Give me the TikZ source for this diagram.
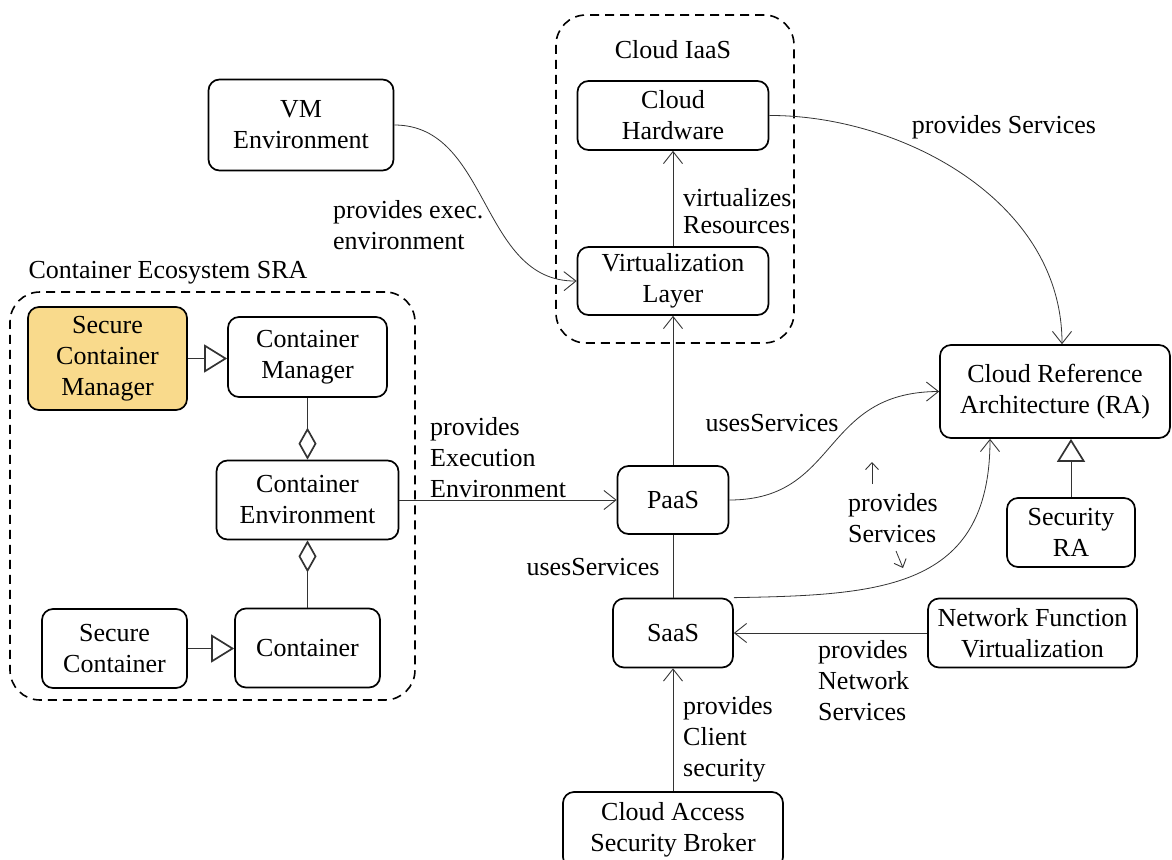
\documentclass[tikz,border=0pt]{standalone}
\usepackage{fontspec}
\setmainfont{Liberation Serif}
\usetikzlibrary{arrows.meta}
\definecolor{securefill}{RGB}{249,218,140}
\tikzset{
  box/.style={draw, rounded corners=11pt, line width=1.7pt, align=center, inner sep=0pt},
  grp/.style={draw, dash pattern=on 9pt off 6pt, rounded corners=30pt, line width=1.6pt, inner sep=0pt},
  lbl/.style={inner sep=0pt, align=left},
  openarrow/.style={-{Straight Barb[length=12pt,width=19pt,line width=0.9pt]}, line width=0.8pt, draw=black!80},
  genarrow/.style={-{Triangle[open,length=23pt,width=28pt,line width=1.7pt,fill=white]}, line width=0.8pt, draw=black!80},
  aggarrow/.style={-{Diamond[open,length=32pt,width=18pt,line width=1.7pt,fill=white]}, line width=0.8pt, draw=black!80}
}
\begin{document}
\begin{tikzpicture}[x=1pt, y=-1pt, font=\fontsize{26}{31}\selectfont]
  \useasboundingbox (0,0) rectangle (1172,859);

  % groups
  \node[grp, minimum width=238pt, minimum height=328pt] (iaas) at (675,179) {};
  \node (iaaslbl) at (673,50) {Cloud IaaS};
  \node[grp, minimum width=405pt, minimum height=408pt] (eco) at (212.5,496) {};
  \node (ecolbl) at (168,273) {Container Ecosystem SRA};

  % cloud side
  \node[box, minimum width=185pt, minimum height=91pt] (vm) at (301,125) {VM\\Environment};
  \node[box, minimum width=191pt, minimum height=69pt] (hw) at (673,115.5) {Cloud\\Hardware};
  \node[box, minimum width=191pt, minimum height=68pt] (virt) at (673,281) {Virtualization\\Layer};
  \node[box, minimum width=111pt, minimum height=68pt] (paas) at (673,500) {PaaS};
  \node[box, minimum width=120pt, minimum height=69pt] (saas) at (673,633) {SaaS};
  \node[box, minimum width=220pt, minimum height=76pt] (casb) at (673,830) {Cloud Access\\Security Broker};
  \node[box, minimum width=230pt, minimum height=93pt] (ra) at (1055,391.5) {Cloud Reference\\Architecture (RA)};
  \node[box, minimum width=128pt, minimum height=69pt] (secra) at (1071,532.5) {Security\\RA};
  \node[box, minimum width=209pt, minimum height=69pt] (nfv) at (1032.5,633) {Network Function\\Virtualization};

  % container side
  \node[box, fill=securefill, minimum width=159pt, minimum height=103pt] (scm) at (107.5,358.5) {Secure\\Container\\Manager};
  \node[box, minimum width=159pt, minimum height=80pt] (cm) at (307.5,357) {Container\\Manager};
  \node[box, minimum width=182pt, minimum height=79pt] (cenv) at (307.5,500) {Container\\Environment};
  \node[box, minimum width=145pt, minimum height=79pt] (scont) at (114.5,648.5) {Secure\\Container};
  \node[box, minimum width=145pt, minimum height=79pt] (cont) at (307.5,648) {Container};

  % UML relations
  \draw[genarrow] (scm.east) -- (scm.east -| cm.west);
  \draw[genarrow] (scont.east) -- (scont.east -| cont.west);
  \draw[genarrow] (secra.north) -- (secra.north |- ra.south);
  \draw[aggarrow] (cm.south) -- (cenv.north);
  \draw[aggarrow] (cont.north) -- (cenv.south);

  % connectors
  \draw[openarrow] (vm.east) .. controls (490,125) and (480,282) .. (virt.west);
  \node[lbl, anchor=west] (lblexec) at (333,225) {provides exec.\\environment};

  \draw[openarrow] (virt.north) -- (hw.south);
  \node[lbl, anchor=west, font=\fontsize{26}{27}\selectfont] (lblvirt) at (683,211) {virtualizes\\Resources};

  \draw[openarrow] (paas.north) -- (virt.south);

  \coordinate (ratop) at ([xshift=7pt]ra.north);
  \draw[openarrow] (hw.east) .. controls (900,115) and (1062,200) .. (ratop);
  \node[lbl] (lblhw) at (1004,127) {provides Services};

  \draw[openarrow] (cenv.east) -- (paas.west);
  \node[lbl, anchor=west] (lblcenv) at (430,458) {provides\\Execution\\Environment};

  \draw[openarrow] (paas.east) .. controls (840,500) and (820,392) .. (ra.west);
  \node[lbl] (lblpaas) at (772,423) {usesServices};

  \coordinate (rabot) at ([xshift=-65pt]ra.south);
  \draw[openarrow] (saas.north east) .. controls (880,595) and (990,590) .. (rabot);
  \node[lbl] (lblsaas) at (893,518) {provides\\Services};
  \coordinate (upa) at (872,484);
  \coordinate (upb) at (872,462);
  \coordinate (dna) at (896,551);
  \coordinate (dnb) at (903,568);
  \draw[openarrow, -{Straight Barb[length=7pt,width=13pt,line width=0.9pt]}] (upa) -- (upb);
  \draw[openarrow, -{Straight Barb[length=7pt,width=13pt,line width=0.9pt]}] (dna) -- (dnb);

  \draw[line width=0.8pt, draw=black!80] (paas.south) -- (saas.north);
  \node[lbl] (lbluses) at (593,567) {usesServices};

  \draw[openarrow] (nfv.west) -- (saas.east);
  \node[lbl, anchor=west] (lblnfv) at (818,681) {provides\\Network\\Services};

  \draw[openarrow] (casb.north) -- (saas.south);
  \node[lbl, anchor=west] (lblcasb) at (683,739) {provides\\Client\\security};
\end{tikzpicture}
\end{document}
